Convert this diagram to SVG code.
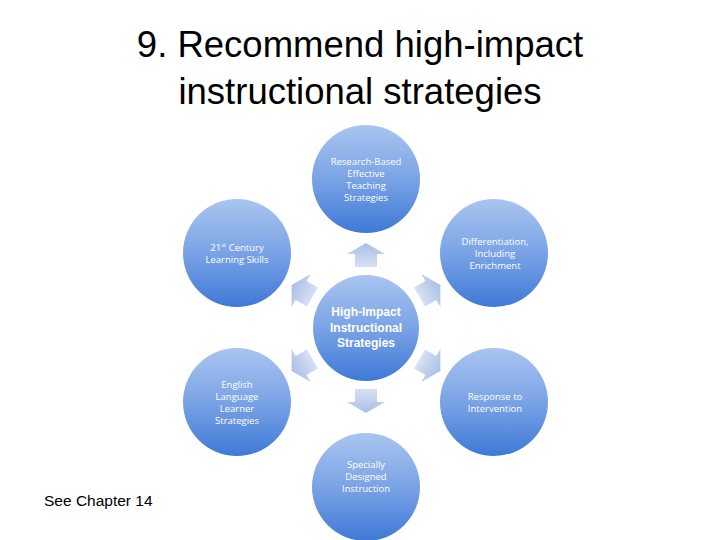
<svg xmlns="http://www.w3.org/2000/svg" width="720" height="540" viewBox="0 0 720 540">
<defs>
<linearGradient id="cg" x1="0" y1="0" x2="0" y2="1">
<stop offset="0" stop-color="#a9c5f0"/>
<stop offset="0.5" stop-color="#7aa3e6"/>
<stop offset="1" stop-color="#3f79d6"/>
</linearGradient>
<linearGradient id="ag" x1="0" y1="0" x2="0" y2="1">
<stop offset="0" stop-color="#a9bfe6"/>
<stop offset="1" stop-color="#d6e1f4"/>
</linearGradient>
<path id="arr" d="M0,-12 L19,-1 L11,-1 L11,12 L-11,12 L-11,-1 L-19,-1 Z"/>
</defs>
<style>
.title{font-family:"Liberation Sans",Arial,sans-serif;font-size:36.5px;fill:#000;text-anchor:middle}
.c{fill:url(#cg)}
.t{font-family:"Open Sans","Liberation Sans",sans-serif;font-size:9.5px;fill:#fff;text-anchor:middle}
.tb{font-family:"Liberation Sans",Arial,sans-serif;font-size:12px;font-weight:bold;fill:#fff;text-anchor:middle}
.a{fill:url(#ag)}
.note{font-family:"Liberation Sans",Arial,sans-serif;font-size:15.5px;fill:#000}
</style>
<rect width="720" height="540" fill="#fff"/>
<text class="title" x="360" y="57">9. Recommend high-impact</text>
<text class="title" x="360" y="104">instructional strategies</text>
<text class="note" x="44" y="506">See Chapter 14</text>

<g id="connectors">
<use href="#arr" class="a" transform="translate(366,255)"/>
<use href="#arr" class="a" transform="translate(430,291) rotate(60)"/>
<use href="#arr" class="a" transform="translate(430,365) rotate(120)"/>
<use href="#arr" class="a" transform="translate(366,401) rotate(180)"/>
<use href="#arr" class="a" transform="translate(302,365) rotate(240)"/>
<use href="#arr" class="a" transform="translate(302,291) rotate(300)"/>
</g>

<g id="center">
<circle class="c" cx="366" cy="328" r="53"/>
<text class="tb" x="366" y="316">High-Impact</text>
<text class="tb" x="366" y="331.5">Instructional</text>
<text class="tb" x="366" y="347">Strategies</text>
</g>
<g id="research">
<circle class="c" cx="366" cy="179" r="54"/>
<text class="t" x="366" y="165">Research-Based</text>
<text class="t" x="366" y="177">Effective</text>
<text class="t" x="366" y="189">Teaching</text>
<text class="t" x="366" y="201">Strategies</text>
</g>
<g id="century">
<circle class="c" cx="237" cy="253" r="54"/>
<text class="t" x="237" y="251">21<tspan font-size="6" dy="-4">st</tspan><tspan dy="4"> Century</tspan></text>
<text class="t" x="237" y="263">Learning Skills</text>
</g>
<g id="differentiation">
<circle class="c" cx="494" cy="253" r="54"/>
<text class="t" x="495" y="245">Differentiation,</text>
<text class="t" x="495" y="257">Including</text>
<text class="t" x="495" y="269">Enrichment</text>
</g>
<g id="english">
<circle class="c" cx="237" cy="402" r="54"/>
<text class="t" x="237" y="388">English</text>
<text class="t" x="237" y="400">Language</text>
<text class="t" x="237" y="412">Learner</text>
<text class="t" x="237" y="424">Strategies</text>
</g>
<g id="response">
<circle class="c" cx="494" cy="402" r="54"/>
<text class="t" x="495" y="400">Response to</text>
<text class="t" x="495" y="412">Intervention</text>
</g>
<g id="specially">
<circle class="c" cx="366" cy="487" r="54"/>
<text class="t" x="366" y="468">Specially</text>
<text class="t" x="366" y="480">Designed</text>
<text class="t" x="366" y="492">Instruction</text>
</g>
</svg>
